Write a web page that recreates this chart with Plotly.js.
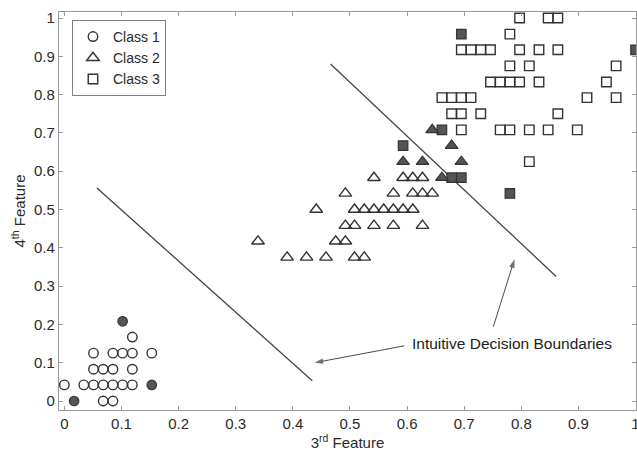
<!DOCTYPE html>
<html>
<head>
<meta charset="utf-8">
<script src="https://cdn.plot.ly/plotly-3.0.1.min.js"></script>
<style>html,body{margin:0;padding:0;background:#fff;}#chart{width:637px;height:452px;}</style>
</head>
<body>
<div id="chart"></div>
<script>
// Class 1 (open circles)
var class1X = [0.000,0.034,0.051,0.068,0.085,0.102,0.119,0.051,0.068,0.085,0.119,0.051,0.085,0.102,0.119,0.153,0.119,0.068,0.085];
var class1Y = [0.042,0.042,0.042,0.042,0.042,0.042,0.042,0.083,0.083,0.083,0.083,0.125,0.125,0.125,0.125,0.125,0.167,0.000,0.000];
// Class 1 (filled circles)
var class1FX = [0.017,0.153,0.102];
var class1FY = [0.000,0.042,0.208];

// Class 2 (open triangles)
var class2X = [0.390,0.424,0.458,0.508,0.525,
               0.339,0.475,0.492,
               0.492,0.508,0.542,0.576,0.627,
               0.441,0.508,0.525,0.542,0.559,0.576,0.593,0.610,
               0.492,0.576,0.610,0.627,0.644,
               0.542,0.593,0.610,0.627];
var class2Y = [0.375,0.375,0.375,0.375,0.375,
               0.417,0.417,0.417,
               0.458,0.458,0.458,0.458,0.458,
               0.500,0.500,0.500,0.500,0.500,0.500,0.500,0.500,
               0.542,0.542,0.542,0.542,0.542,
               0.583,0.583,0.583,0.583];
// Class 2 (filled triangles)
var class2FX = [0.661,0.593,0.627,0.695,0.678,0.644];
var class2FY = [0.583,0.625,0.625,0.625,0.667,0.708];

// Class 3 (open squares)
var class3X = [0.797,0.847,0.864,
               0.780,
               0.695,0.712,0.729,0.746,0.797,0.831,0.864,
               0.780,0.814,0.966,
               0.746,0.763,0.780,0.797,0.831,0.949,
               0.661,0.678,0.695,0.712,0.915,0.966,
               0.678,0.695,0.729,0.864,
               0.695,0.763,0.780,0.814,0.847,0.898,
               0.814];
var class3Y = [1.000,1.000,1.000,
               0.958,
               0.917,0.917,0.917,0.917,0.917,0.917,0.917,
               0.875,0.875,0.875,
               0.833,0.833,0.833,0.833,0.833,0.833,
               0.792,0.792,0.792,0.792,0.792,0.792,
               0.750,0.750,0.750,0.750,
               0.708,0.708,0.708,0.708,0.708,0.708,
               0.625];
// Class 3 (filled squares)
var class3FX = [0.695,1.000,0.661,0.593,0.678,0.695,0.780];
var class3FY = [0.958,0.917,0.708,0.667,0.583,0.583,0.542];

// Decision boundaries
var boundary1X = [0.057,0.434];
var boundary1Y = [0.556,0.053];
var boundary2X = [0.466,0.861];
var boundary2Y = [0.880,0.325];

// Annotation arrows (tail -> head)
var arrow1X = [0.595,0.438];
var arrow1Y = [0.144,0.100];
var arrow2X = [0.751,0.788];
var arrow2Y = [0.194,0.370];

var legendNames = ['Class 1','Class 2','Class 3'];
var annotationText = 'Intuitive Decision Boundaries';
var xTitle = '3<sup>rd</sup> Feature';
var yTitle = '4<sup>th</sup> Feature';

var FONT = 'Liberation Sans, Arial, sans-serif';
var edge = '#333333';
var fillDark = '#555555';

function symSize(sym){ return sym==='triangle-up' ? 11 : 9.5; }
function openTrace(x, y, sym, name) {
  return {x:x, y:y, type:'scatter', mode:'markers', name:name,
    marker:{symbol:sym, size:symSize(sym), color:'rgba(255,255,255,0)', line:{color:edge, width:1.4}}};
}
function filledTrace(x, y, sym) {
  return {x:x, y:y, type:'scatter', mode:'markers', showlegend:false,
    marker:{symbol:sym, size:symSize(sym), color:fillDark, line:{color:edge, width:1.2}}};
}
function lineTrace(x, y) {
  return {x:x, y:y, type:'scatter', mode:'lines', showlegend:false,
    line:{color:'#444444', width:1.3}};
}
function arrowTrace(x, y) {
  return {x:x, y:y, type:'scatter', mode:'lines+markers', showlegend:false, cliponaxis:false,
    line:{color:'#4a4a4a', width:1},
    marker:{symbol:'arrow', angleref:'previous', size:[0,9], color:'#333333', line:{width:0}}};
}

var data = [
  lineTrace(boundary1X, boundary1Y),
  lineTrace(boundary2X, boundary2Y),
  arrowTrace(arrow1X, arrow1Y),
  arrowTrace(arrow2X, arrow2Y),
  openTrace(class1X, class1Y, 'circle', legendNames[0]),
  openTrace(class2X, class2Y, 'triangle-up', legendNames[1]),
  openTrace(class3X, class3Y, 'square', legendNames[2]),
  filledTrace(class3FX, class3FY, 'square'),
  filledTrace(class1FX, class1FY, 'circle'),
  filledTrace(class2FX, class2FY, 'triangle-up')
];

var axisCommon = {
  showline:true, mirror:'ticks', linecolor:'#9a9a9a', linewidth:1.2,
  ticks:'inside', ticklen:4, tickcolor:'#9a9a9a', tickwidth:1,
  showgrid:false, zeroline:false, dtick:0.1, tick0:0,
  ticklabeloverflow:'allow',
  tickfont:{family:FONT, size:15, color:'#2a2a2a'}
};

var layout = {
  width:637, height:452,
  margin:{l:59, r:1, t:12, b:42},
  paper_bgcolor:'#ffffff', plot_bgcolor:'#ffffff',
  showlegend:true,
  legend:{x:0.0225, y:0.98, xanchor:'left', yanchor:'top',
    bordercolor:'#808080', borderwidth:1, bgcolor:'#ffffff',
    font:{family:FONT, size:14, color:'#2a2a2a'},
    tracegroupgap:0},
  xaxis:Object.assign({}, axisCommon, {
    range:[-0.0094, 1.0008],
    title:{text:xTitle, standoff:4, font:{family:FONT, size:15, color:'#2a2a2a'}}
  }),
  yaxis:Object.assign({}, axisCommon, {
    range:[-0.0235, 1.0157],
    title:{text:yTitle, standoff:4, font:{family:FONT, size:15, color:'#2a2a2a'}}
  }),
  annotations:[
    {x:0.784, y:0.151, xref:'x', yref:'y', text:annotationText, showarrow:false,
      font:{family:FONT, size:15.5, color:'#222222'}}
  ]
};

Plotly.newPlot('chart', data, layout, {displayModeBar:false, staticPlot:true});
</script>
</body>
</html>
